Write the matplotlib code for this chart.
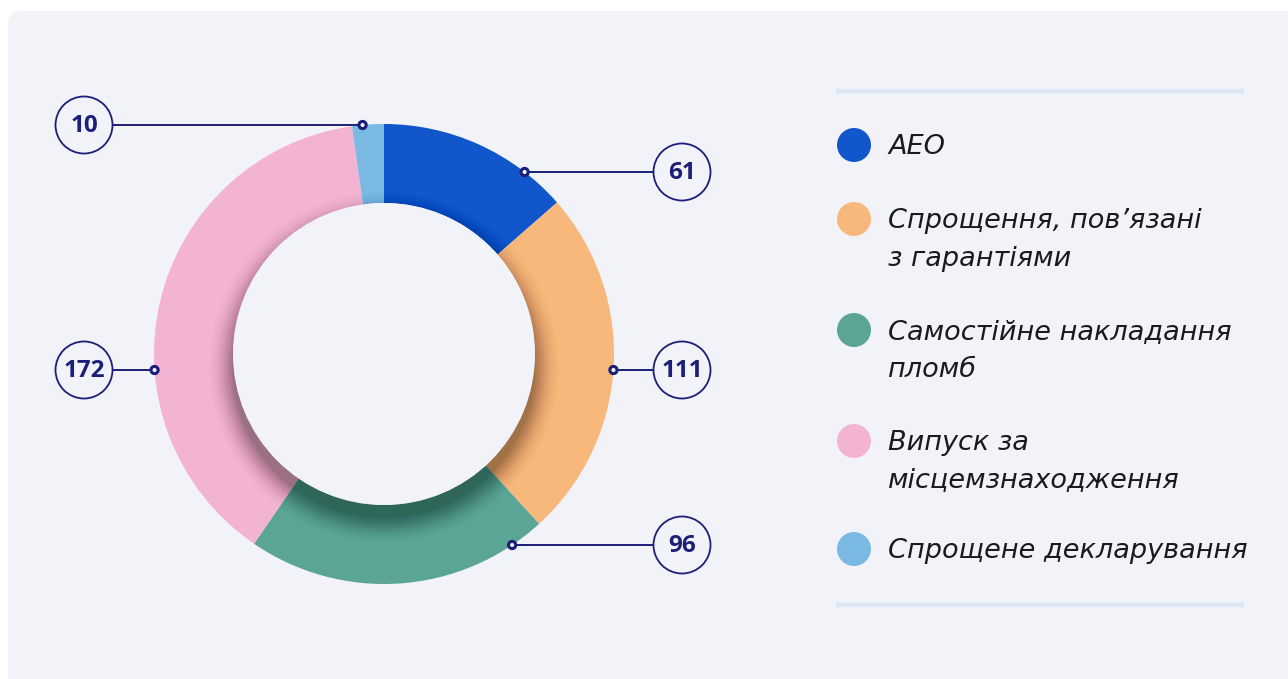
import numpy as np
import matplotlib.pyplot as plt
from matplotlib.patches import Circle, FancyBboxPatch

# data
categories = ["АЕО", "Спрощення, пов’язані\nз гарантіями", "Самостійне накладання\nпломб",
              "Випуск за\nмісцемзнаходження", "Спрощене декларування"]
values = [61, 111, 96, 172, 10]
colors = ["#1256CB", "#F8B87C", "#5BA596", "#F3B4D4", "#79B9E2"]
# label placement (pixel rows of the callouts, side of the donut)
label_rows = [172, 370, 545, 370, 125]
label_side = [1, 1, 1, -1, -1]

W, H = 1288, 679
BG = "#F2F3F9"
NAVY = "#1B1F78"

fig = plt.figure(figsize=(W / 100, H / 100), dpi=100, facecolor="white")
ax = fig.add_axes([0, 0, 1, 1])


def Y(py):
    return H - py


# panel
ax.add_patch(FancyBboxPatch((8, -40), W + 40, Y(11) + 40, boxstyle="round,pad=0,rounding_size=14",
                            fc=BG, ec="none", zorder=0))

cx, cy = 384, 354
R, r_in = 230, 151

ax.pie(values, colors=colors, radius=R, center=(cx, Y(cy)), startangle=90, counterclock=False,
       wedgeprops=dict(width=R - r_in, linewidth=0), frame=True)

# soft inner shadow cast by the hole (offset downwards)
for s in np.linspace(0, 32, 48):
    a = 0.018 * (1 - s / 32) ** 1.5
    ax.add_patch(Circle((cx, Y(cy + 13)), r_in + s, fc="black", ec="none", alpha=a, zorder=3))
ax.add_patch(Circle((cx, Y(cy)), r_in, fc=BG, ec="none", zorder=4))

# callouts
for v, row, side in zip(values, label_rows, label_side):
    dy = row - cy
    px = cx + side * np.sqrt(R ** 2 - dy ** 2)
    lx = 682 if side > 0 else 84
    ax.plot([px, lx - side * 28], [Y(row), Y(row)], color=NAVY, lw=1.4, zorder=5)
    ax.add_patch(Circle((px, Y(row)), 3.6, fc=BG, ec=NAVY, lw=2.2, zorder=6))
    ax.add_patch(Circle((lx, Y(row)), 28.5, fc=BG, ec=NAVY, lw=1.3, zorder=6))
    ax.text(lx, Y(row) - 1, str(v), ha="center", va="center", fontsize=17.5, fontweight="bold",
            color=NAVY, family="Open Sans", zorder=7)

# legend
ax.plot([836, 1244], [Y(91), Y(91)], color="#DDE6F4", lw=3.2, solid_capstyle="butt", zorder=2)
ax.plot([836, 1244], [Y(605), Y(605)], color="#DDE6F4", lw=3.2, solid_capstyle="butt", zorder=2)
legend_rows = [145, 219, 330, 441, 549]
for lab, col, row in zip(categories, colors, legend_rows):
    ax.add_patch(Circle((854, Y(row)), 17, fc=col, ec="none", zorder=5))
    ax.text(888, Y(row - 11), lab, ha="left", va="top", fontsize=19.5, style="italic",
            color="#1A1A1A", family="DejaVu Sans", linespacing=1.62, zorder=5)

ax.set_xlim(0, W)
ax.set_ylim(0, H)
ax.set_aspect("equal")
ax.axis("off")

fig.savefig("out.png", dpi=100, facecolor="white")
